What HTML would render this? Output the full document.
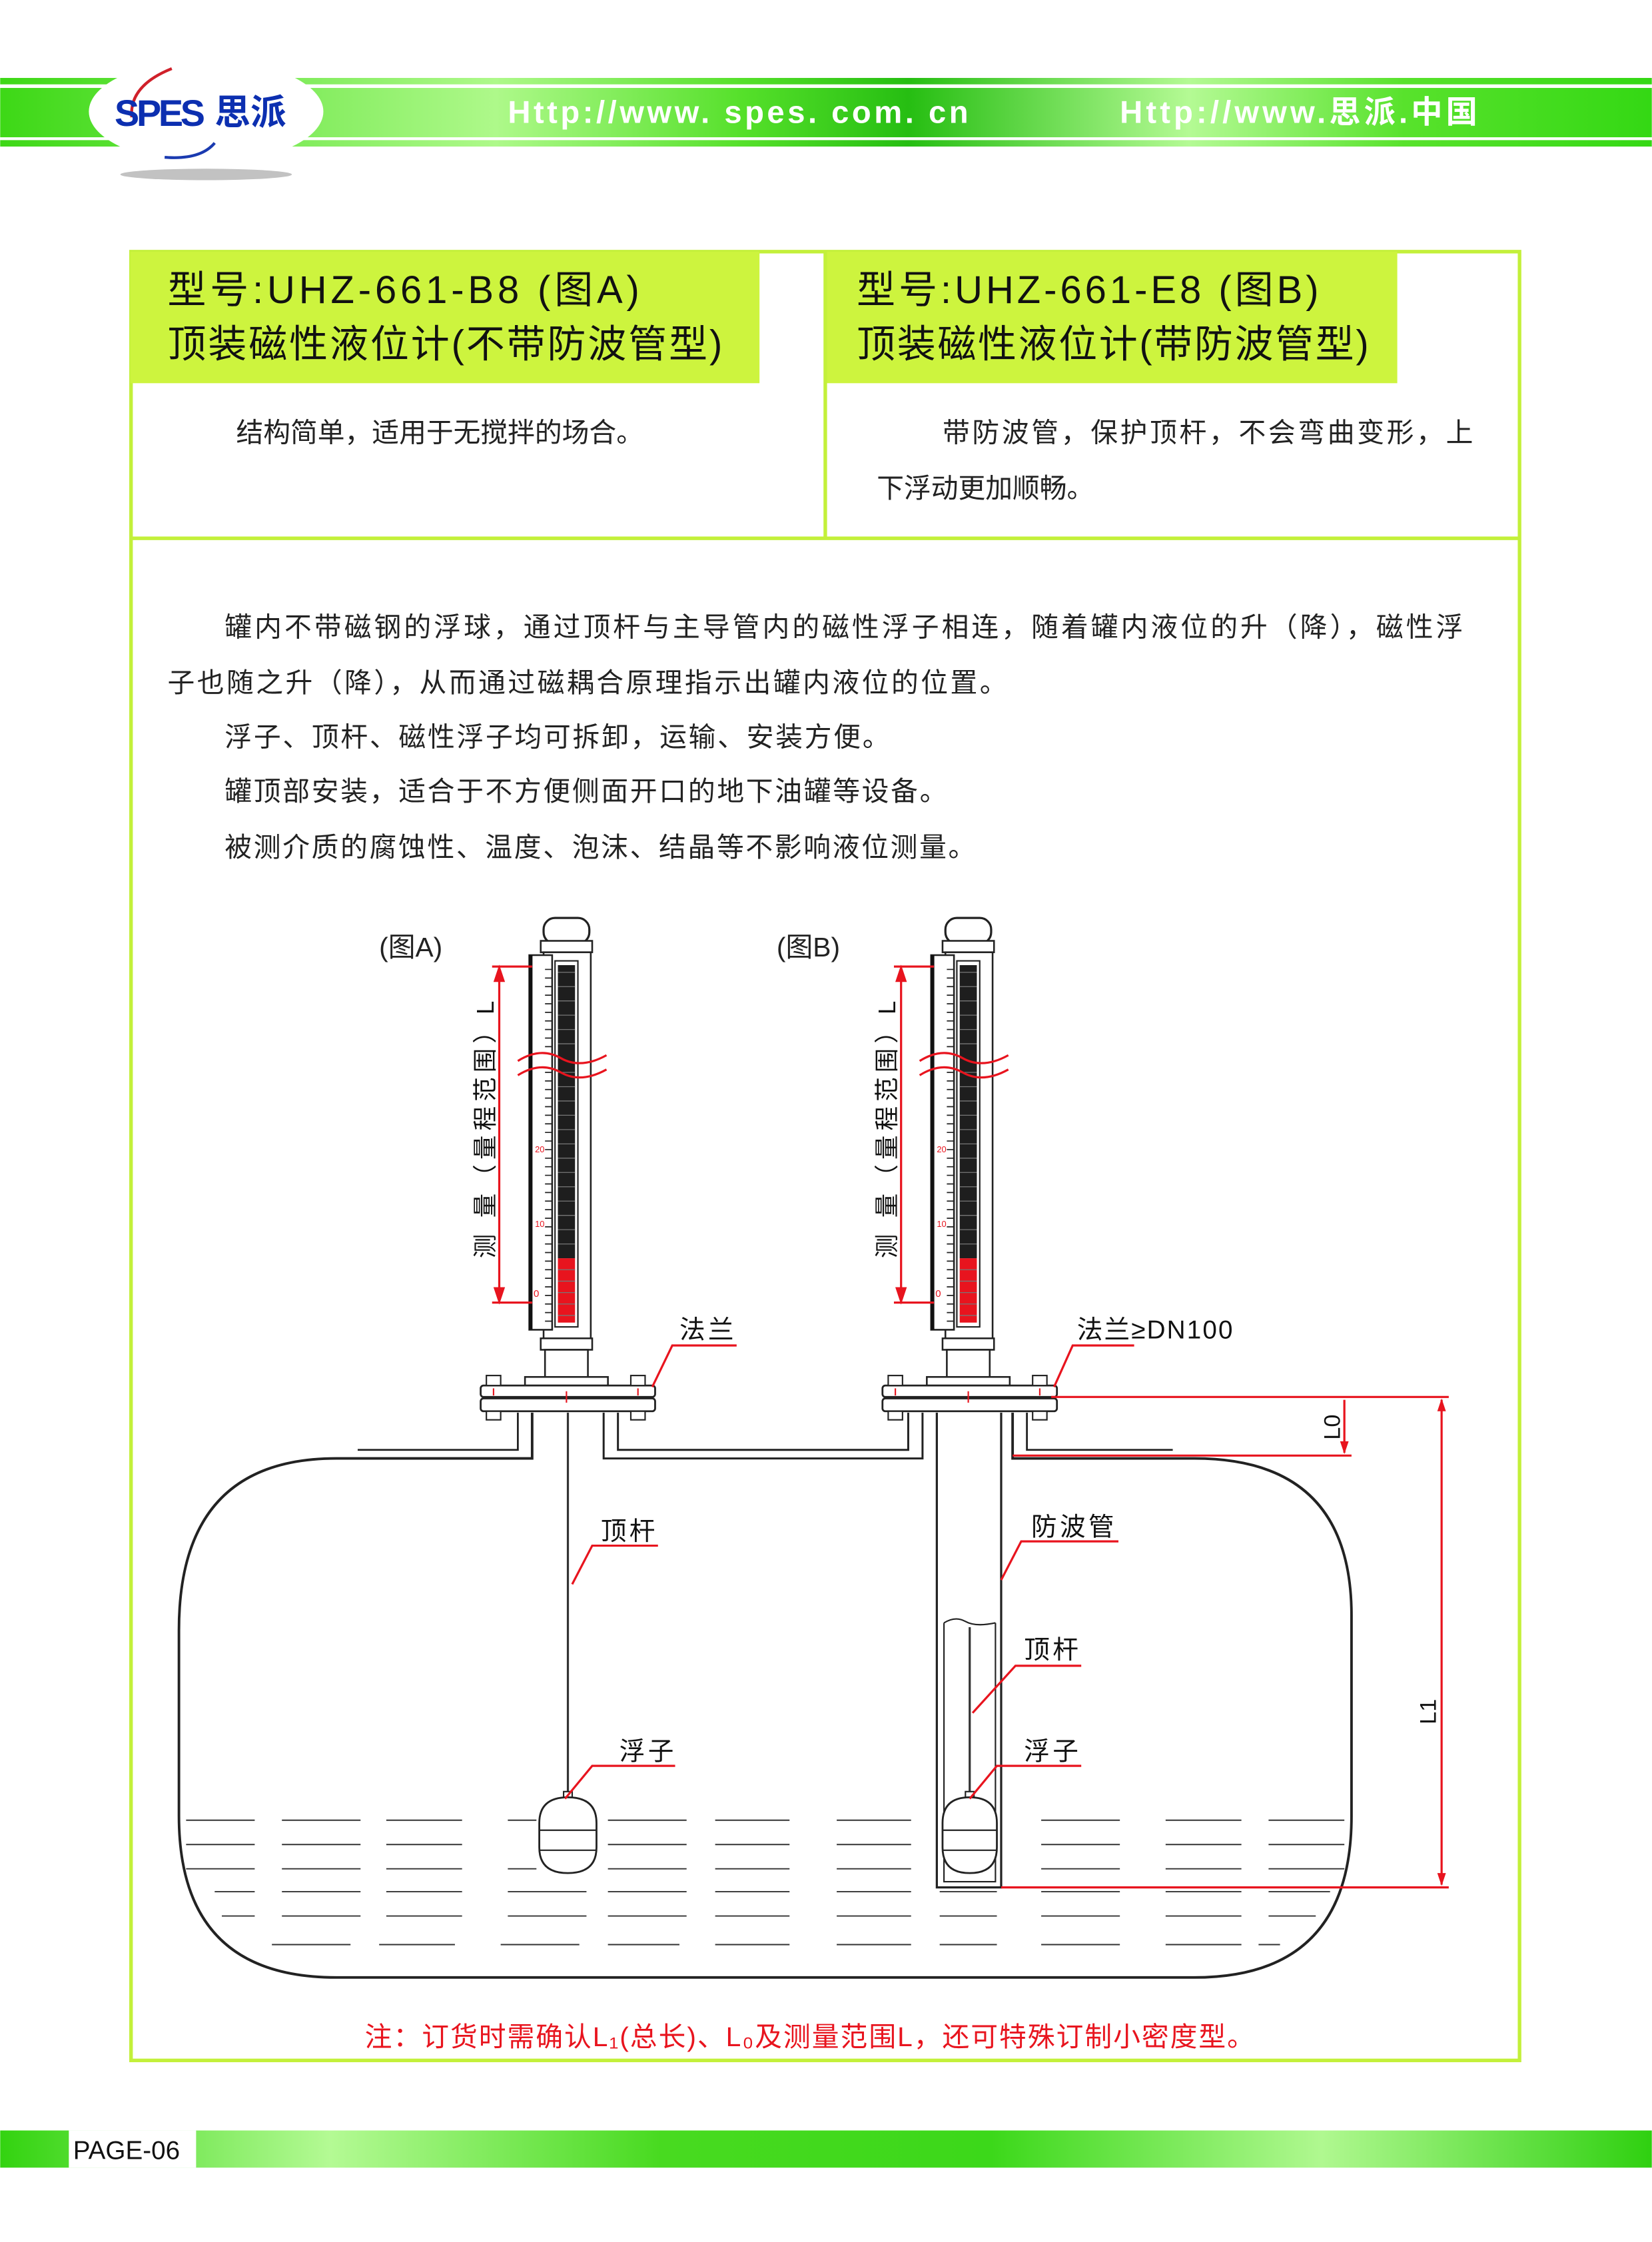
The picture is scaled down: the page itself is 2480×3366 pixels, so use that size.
<!DOCTYPE html>
<html><head><meta charset="utf-8">
<style>
html,body{margin:0;padding:0;background:#fff;}
svg{display:block;}
text{font-family:"Liberation Sans","Noto Sans CJK SC",sans-serif;}
</style></head>
<body>
<svg width="2480" height="3366" viewBox="0 0 1155 1568" xmlns="http://www.w3.org/2000/svg">
<defs>
<linearGradient id="gb" x1="0" x2="1" y1="0" y2="0">
<stop offset="0" stop-color="#3dd816"/>
<stop offset="0.3" stop-color="#aef98a"/>
<stop offset="0.45" stop-color="#55e02a"/>
<stop offset="0.55" stop-color="#26be12"/>
<stop offset="0.72" stop-color="#b4fa94"/>
<stop offset="0.85" stop-color="#58e22c"/>
<stop offset="1" stop-color="#34d814"/>
</linearGradient>
<linearGradient id="fb" x1="0" x2="1" y1="0" y2="0">
<stop offset="0" stop-color="#33d310"/>
<stop offset="0.2" stop-color="#b4fa94"/>
<stop offset="0.4" stop-color="#48da20"/>
<stop offset="0.6" stop-color="#3cd81a"/>
<stop offset="0.8" stop-color="#b0f890"/>
<stop offset="1" stop-color="#2fd010"/>
</linearGradient>
<g id="gauge">
 <rect x="380" y="642" width="32" height="18" rx="8" fill="#fff" stroke="#222" stroke-width="1.5"/>
 <rect x="378" y="658" width="36" height="8" fill="#fff" stroke="#222" stroke-width="1.2"/>
 <rect x="380" y="666" width="33" height="270" fill="#fff" stroke="#222" stroke-width="1.2"/>
 <rect x="370" y="668" width="16" height="262" fill="#fff" stroke="#222" stroke-width="1.2"/>
 <line x1="371" y1="668" x2="371" y2="930" stroke="#111" stroke-width="2.5"/>
 <rect x="388" y="672" width="16" height="256" fill="#fff" stroke="#222" stroke-width="1"/>
 <rect x="390" y="675" width="12" height="205" fill="#1e1e1e"/>
 <rect x="390" y="880" width="12" height="45" fill="#e8141e"/>
 <path d="M390 680 H402 M390 690 H402 M390 700 H402 M390 710 H402 M390 720 H402 M390 730 H402 M390 750 H402 M390 760 H402 M390 770 H402 M390 780 H402 M390 790 H402 M390 800 H402 M390 810 H402 M390 820 H402 M390 830 H402 M390 840 H402 M390 850 H402 M390 860 H402 M390 870 H402 M390 888 H402 M390 896 H402 M390 904 H402 M390 912 H402 M390 920 H402" stroke="#777" stroke-width="0.6"/>
 <path d="M381 678 H386 M381 684 H386 M381 690 H386 M381 696 H386 M381 702 H386 M381 708 H386 M381 714 H386 M381 720 H386 M381 726 H386 M381 732 H386 M381 750 H386 M381 756 H386 M381 762 H386 M381 768 H386 M381 774 H386 M381 780 H386 M381 786 H386 M381 792 H386 M381 798 H386 M381 804 H386 M381 810 H386 M381 816 H386 M381 822 H386 M381 828 H386 M381 834 H386 M381 840 H386 M381 846 H386 M381 852 H386 M381 858 H386 M381 864 H386 M381 870 H386 M381 876 H386 M381 882 H386 M381 888 H386 M381 894 H386 M381 900 H386 M381 906 H386 M381 912 H386 M381 918 H386 M381 924 H386" stroke="#222" stroke-width="0.8"/>
 <text x="374" y="806" font-size="6" fill="#e8141e">20</text>
 <text x="374" y="858" font-size="6" fill="#e8141e">10</text>
 <text x="373" y="907" font-size="7" fill="#e8141e">0</text>
 <path d="M362 742 Q378 732 392 740 T424 738 M362 752 Q378 742 392 750 T424 748" stroke="#e8141e" stroke-width="1.5" fill="none"/>
 <rect x="378" y="936" width="36" height="8" fill="#fff" stroke="#222" stroke-width="1.2"/>
 <rect x="381" y="944" width="30" height="20" fill="#fff" stroke="#222" stroke-width="1.2"/>
 <rect x="367" y="963" width="58" height="6" fill="#fff" stroke="#222" stroke-width="1.2"/>
 <rect x="336" y="969" width="122" height="8" rx="2" fill="#fff" stroke="#222" stroke-width="1.3"/>
 <rect x="336" y="978" width="122" height="9" rx="2" fill="#fff" stroke="#222" stroke-width="1.3"/>
 <rect x="340" y="962" width="10" height="7" fill="#fff" stroke="#222"/>
 <rect x="441" y="962" width="10" height="7" fill="#fff" stroke="#222"/>
 <rect x="340" y="987" width="10" height="6" fill="#fff" stroke="#222"/>
 <rect x="441" y="987" width="10" height="6" fill="#fff" stroke="#222"/>
 <path d="M345 971 V976 M446 971 V976 M396 973 V981" stroke="#e8141e" stroke-width="1"/>
</g>
</defs>

<!-- header -->
<rect x="0" y="54.5" width="1155" height="4.5" fill="url(#gb)"/>
<rect x="0" y="61.5" width="1155" height="34.5" fill="url(#gb)"/>
<rect x="0" y="98" width="1155" height="4.5" fill="url(#gb)"/>
<ellipse cx="144" cy="78" rx="82" ry="36" fill="#fff"/>
<path d="M120 48 Q90 60 92 82" stroke="#d0202a" stroke-width="2" fill="none"/>
<path d="M150 100 Q140 112 115 110" stroke="#1a3ab0" stroke-width="2" fill="none"/>
<text x="80" y="88" font-size="26" font-weight="bold" fill="#0c2fb0" letter-spacing="-2">SPES</text>
<text x="150" y="87" font-size="25" font-weight="bold" fill="#0c2fb0">思派</text>
<ellipse cx="144" cy="122" rx="60" ry="4" fill="#999" opacity="0.6"/>
<text x="355" y="86" font-size="22" font-weight="bold" fill="#fff" textLength="322">Http://www. spes. com. cn</text>
<text x="783" y="86" font-size="22" font-weight="bold" fill="#fff" textLength="250">Http://www.思派.中国</text>

<!-- boxes -->
<rect x="91.5" y="176" width="971" height="1265" fill="none" stroke="#c3f03a" stroke-width="2.5"/>
<rect x="91" y="176" width="440" height="92" fill="#cdf43e"/>
<rect x="578" y="176" width="399" height="92" fill="#cdf43e"/>
<line x1="577" y1="176" x2="577" y2="376" stroke="#c3f03a" stroke-width="2.5"/>
<line x1="91" y1="376.5" x2="1063" y2="376.5" stroke="#c3f03a" stroke-width="2.5"/>
<text x="117" y="212" font-size="27" fill="#111" textLength="330">型号:UHZ-661-B8  (图A)</text>
<text x="117" y="250" font-size="27" fill="#111" textLength="388">顶装磁性液位计(不带防波管型)</text>
<text x="599" y="212" font-size="27" fill="#111" textLength="323">型号:UHZ-661-E8  (图B)</text>
<text x="599" y="250" font-size="27" fill="#111" textLength="358">顶装磁性液位计(带防波管型)</text>
<text x="165" y="309" font-size="19" fill="#222">结构简单，适用于无搅拌的场合。</text>
<text x="659" y="309" font-size="19" fill="#222" textLength="371">带防波管，保护顶杆，不会弯曲变形，上</text>
<text x="613" y="348" font-size="19" fill="#222">下浮动更加顺畅。</text>

<g font-size="19" fill="#222">
<text x="157" y="445" textLength="866">罐内不带磁钢的浮球，通过顶杆与主导管内的磁性浮子相连，随着罐内液位的升（降），磁性浮</text>
<text x="117" y="484" textLength="587">子也随之升（降），从而通过磁耦合原理指示出罐内液位的位置。</text>
<text x="157" y="522" textLength="465">浮子、顶杆、磁性浮子均可拆卸，运输、安装方便。</text>
<text x="157" y="560" textLength="505">罐顶部安装，适合于不方便侧面开口的地下油罐等设备。</text>
<text x="157" y="599" textLength="525">被测介质的腐蚀性、温度、泡沫、结晶等不影响液位测量。</text>
</g>

<text x="265" y="669" font-size="19" fill="#222">(图A)</text>
<text x="543" y="669" font-size="19" fill="#222">(图B)</text>

<!-- tank -->
<path d="M372 988 V1020 H235 Q125 1020 125 1140 V1270 Q125 1383 235 1383 H835 Q945 1383 945 1270 V1130 Q945 1020 835 1020 H708 V988" fill="none" stroke="#222" stroke-width="1.8"/>
<path d="M362 988 V1014 H250" fill="none" stroke="#222" stroke-width="1.3"/>
<path d="M718 988 V1014 H820" fill="none" stroke="#222" stroke-width="1.3"/>
<path d="M422 988 V1020 H645 V988 M432 988 V1014 H635 V988" fill="none" stroke="#222" stroke-width="1.4"/>
<path d="M655 988 V1320 H700 V988" fill="none" stroke="#222" stroke-width="1.5"/>
<!-- inner B tube -->
<path d="M660 1135 Q668 1130 675 1134 T696 1135 M660 1135 V1316 H696 V1135" fill="none" stroke="#222" stroke-width="1"/>

<!-- liquid lines -->
<g stroke="#333" stroke-width="0.9">
<path d="M130 1273 H178 M197 1273 H252 M270 1273 H323 M355 1273 H375 M425 1273 H480 M500 1273 H552 M585 1273 H637 M728 1273 H783 M815 1273 H868 M887 1273 H940"/>
<path d="M130 1290 H178 M197 1290 H252 M270 1290 H323 M425 1290 H480 M500 1290 H552 M585 1290 H637 M728 1290 H783 M815 1290 H868 M887 1290 H940"/>
<path d="M130 1307 H178 M197 1307 H252 M270 1307 H323 M355 1307 H375 M425 1307 H480 M500 1307 H552 M585 1307 H637 M728 1307 H783 M815 1307 H868 M887 1307 H940"/>
<path d="M150 1323 H178 M197 1323 H252 M270 1323 H323 M355 1323 H410 M425 1323 H480 M500 1323 H552 M585 1323 H637 M657 1323 H697 M728 1323 H783 M815 1323 H868 M887 1323 H930"/>
<path d="M155 1340 H178 M197 1340 H252 M270 1340 H323 M355 1340 H410 M425 1340 H480 M500 1340 H552 M585 1340 H637 M657 1340 H697 M728 1340 H783 M815 1340 H868 M887 1340 H920"/>
<path d="M190 1360 H245 M265 1360 H318 M350 1360 H405 M425 1360 H475 M500 1360 H552 M585 1360 H637 M657 1360 H697 M728 1360 H783 M815 1360 H868 M880 1360 H895"/>
</g>

<!-- gauges -->
<use href="#gauge"/>
<use href="#gauge" transform="translate(281 0)"/>

<!-- rods & floats -->
<line x1="397" y1="988" x2="397" y2="1255" stroke="#333" stroke-width="1.5"/>
<rect x="394" y="1253" width="6" height="5" fill="#fff" stroke="#222"/>
<path d="M377 1275 Q377 1257 397 1257 Q417 1257 417 1275 V1292 Q417 1310 397 1310 Q377 1310 377 1292 Z" fill="#fff" stroke="#222" stroke-width="1.3"/>
<path d="M377 1280 H417 M377 1294 H417" stroke="#222"/>
<line x1="678" y1="1138" x2="678" y2="1255" stroke="#333" stroke-width="1.5"/>
<rect x="675" y="1253" width="6" height="5" fill="#fff" stroke="#222"/>
<path d="M659 1275 Q659 1257 678 1257 Q697 1257 697 1275 V1292 Q697 1310 678 1310 Q659 1310 659 1292 Z" fill="#fff" stroke="#222" stroke-width="1.3"/>
<path d="M659 1280 H697 M659 1294 H697" stroke="#222"/>

<!-- dimension A/B measurement -->
<g stroke="#e8141e" stroke-width="1.5" fill="#e8141e">
<path d="M344 676 H372 M344 911 H372 M349 678 V909" fill="none"/>
<path d="M349 677 l-3 9 h6 z M349 910 l-3 -9 h6 z"/>
<path d="M625 676 H653 M625 911 H653 M630 678 V909" fill="none"/>
<path d="M630 677 l-3 9 h6 z M630 910 l-3 -9 h6 z"/>
</g>
<text transform="translate(345 880) rotate(-90)" font-size="17" fill="#111" textLength="180">测 量（量程范围）L</text>
<text transform="translate(626 880) rotate(-90)" font-size="17" fill="#111" textLength="180">测 量（量程范围）L</text>

<!-- leaders -->
<g stroke="#e8141e" stroke-width="1.5" fill="none">
<path d="M456 970 L470 941 H515"/>
<path d="M400 1108 L414 1081 H460"/>
<path d="M395 1258 L414 1235 H472"/>
<path d="M737 970 L750 941 H793"/>
<path d="M700 1105 L714 1078 H782"/>
<path d="M680 1198 L710 1165 H756"/>
<path d="M678 1258 L697 1235 H756"/>
<path d="M735 977 H1013 M708 1018 H945 M700 1320 H1013"/>
<path d="M940 979 V1016 M1008 979 V1318"/>
</g>
<g fill="#e8141e">
<path d="M940 1017 l-3 -9 h6 z M1008 978 l-3 9 h6 z M1008 1319 l-3 -9 h6 z"/>
</g>
<g font-size="18" fill="#111">
<text x="475" y="936" letter-spacing="2">法兰</text>
<text x="420" y="1077" letter-spacing="2">顶杆</text>
<text x="433" y="1231" letter-spacing="2">浮子</text>
<text x="753" y="936" letter-spacing="1">法兰≥DN100</text>
<text x="721" y="1074" letter-spacing="2">防波管</text>
<text x="716" y="1160" letter-spacing="2">顶杆</text>
<text x="716" y="1231" letter-spacing="2">浮子</text>
</g>
<text transform="translate(937 1007) rotate(-90)" font-size="16" fill="#111">L0</text>
<text transform="translate(1004 1206) rotate(-90)" font-size="16" fill="#111">L1</text>

<text x="255" y="1431" font-size="19" fill="#e8141e" textLength="622">注：订货时需确认L₁(总长)、L₀及测量范围L，还可特殊订制小密度型。</text>

<!-- footer -->
<rect x="0" y="1490" width="1155" height="26" fill="url(#fb)"/>
<rect x="48" y="1490" width="89" height="26" fill="#fff"/>
<text x="51" y="1510" font-size="18" fill="#111">PAGE-06</text>
</svg>
</body></html>
